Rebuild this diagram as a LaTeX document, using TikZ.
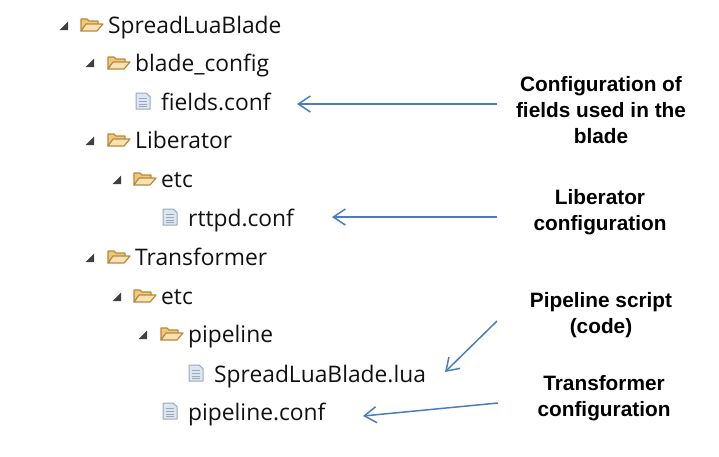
\documentclass[tikz,border=0pt]{standalone}
\usepackage{fontspec}
\setmainfont{Open Sans}
\newfontfamily\labelfont{Liberation Sans}
\usetikzlibrary{arrows.meta}
\definecolor{arrowblue}{HTML}{4A7EBB}
\definecolor{folderedge}{HTML}{B8893A}
\definecolor{folderfill}{HTML}{F0C878}
\definecolor{fileedge}{HTML}{9AA8BC}
\definecolor{filefill}{HTML}{DDE5F0}
\definecolor{treetext}{HTML}{111111}
\tikzset{
  x=1pt,y=-1pt,
  treelabel/.style={anchor=base west,inner sep=0pt,font=\fontsize{22.8}{23}\selectfont,text=treetext},
  notelabel/.style={align=center,inner sep=0pt,font=\labelfont\bfseries\fontsize{20.8}{25.6}\selectfont,text=black},
  pointer/.style={draw=arrowblue,line width=1.5pt,-{Straight Barb[length=12pt,width=16pt,line width=1.5pt]}},
  pics/folder/.style={code={
    \draw[folderedge,fill=folderfill,line width=1.2pt,line join=round] (-11,6) -- (-11,-6) -- (-5,-6) -- (-3,-4) -- (6,-4) -- (6,0) -- (-6,0) -- cycle;
    \draw[folderedge,fill=folderfill!55!white,line width=1.2pt,line join=round] (-11,6) -- (-6,-1) -- (11,-1) -- (5,6) -- cycle;
  }},
  pics/docfile/.style={code={
    \draw[fileedge,fill=filefill,line width=1pt,line join=round] (-7,-8) -- (3,-8) -- (7,-4.5) -- (7,8) -- (-7,8) -- cycle;
    \foreach \yy in {-3,0,3,5.5} \draw[fileedge,line width=.9pt] (-4,\yy) -- (4,\yy);
  }},
  pics/expander/.style={code={
    \fill[black!75] (4,-4.5) -- (4,4) -- (-4.5,4) -- cycle;
  }},
}
\begin{document}
\begin{tikzpicture}
\useasboundingbox (0,0) rectangle (719,456);
% tree
\pic at (64,26) {expander};  \pic at (92,25) {folder};
\node[treelabel] (root) at (108,33) {SpreadLuaBlade};
\pic at (90,63) {expander};  \pic at (119,63) {folder};
\node[treelabel] (bladeconfig) at (135,71) {blade\_config};
\pic at (143,101) {docfile};
\node[treelabel] (fields) at (161,110) {fields.conf};
\pic at (90,141) {expander}; \pic at (119,140) {folder};
\node[treelabel] (liberator) at (135,148) {Liberator};
\pic at (117,180) {expander}; \pic at (145,179) {folder};
\node[treelabel] (etcone) at (161,187) {etc};
\pic at (170,217) {docfile};
\node[treelabel] (rttpd) at (188,226) {rttpd.conf};
\pic at (90,258) {expander}; \pic at (119,257) {folder};
\node[treelabel] (transformer) at (135,265) {Transformer};
\pic at (117,297) {expander}; \pic at (145,296) {folder};
\node[treelabel] (etctwo) at (161,304) {etc};
\pic at (143,335) {expander}; \pic at (172,334) {folder};
\node[treelabel] (pipeline) at (188,342) {pipeline};
\pic at (196,373) {docfile};
\node[treelabel] (lua) at (214,382) {SpreadLuaBlade.lua};
\pic at (170,411) {docfile};
\node[treelabel] (pipeconf) at (188,420) {pipeline.conf};
% notes
\node[notelabel] (notefields) at (601,110) {Configuration of\\fields used in the\\blade};
\node[notelabel] (noteliberator) at (600,212) {Liberator\\configuration};
\node[notelabel] (notepipeline) at (601,315) {Pipeline script\\(code)};
\node[notelabel] (notetransformer) at (604,398) {Transformer\\configuration};
% connector ends
\coordinate (a1) at (497,104); \coordinate (a2) at (297,104);
\coordinate (b1) at (497,217); \coordinate (b2) at (332,217);
\coordinate (c1) at (497,321); \coordinate (c2) at (445,372);
\coordinate (d1) at (498,403); \coordinate (d2) at (363,416);
\draw[pointer] (a1) -- (a2);
\draw[pointer] (b1) -- (b2);
\draw[pointer] (c1) -- (c2);
\draw[pointer] (d1) -- (d2);
\end{tikzpicture}
\end{document}
